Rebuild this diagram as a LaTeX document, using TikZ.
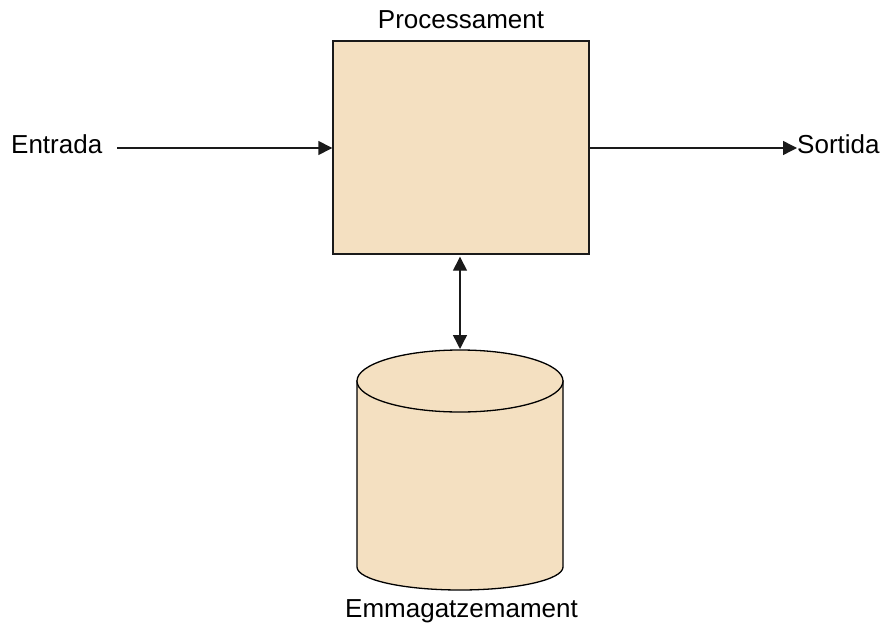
\documentclass[tikz,border=0pt]{standalone}
\usepackage{fontspec}
\setmainfont{Liberation Sans}
\usetikzlibrary{arrows.meta}
\definecolor{boxfill}{HTML}{F4E0C1}
\definecolor{edge}{HTML}{1A1A1A}
\tikzset{
  label text/.style={font=\fontsize{26}{31}\selectfont, inner sep=0pt, text=black},
  tip/.style={Triangle[length=14pt,width=14pt]},
  flow/.style={draw=edge, line width=1.4pt, -{Triangle[length=14pt,width=14pt]}},
  twoway/.style={draw=edge, line width=1.4pt, {Triangle[length=14pt,width=14pt]}-{Triangle[length=14pt,width=14pt]}},
  procbox/.style={draw=edge, fill=boxfill, line width=1.4pt, minimum width=256pt, minimum height=213pt, inner sep=0pt},
  store/.style={draw=black, fill=boxfill, line width=1.3pt}
}
\begin{document}
\begin{tikzpicture}[x=1pt,y=1pt]
  \useasboundingbox (0,0) rectangle (881,-626);

  % processing block
  \node[procbox] (proc) at (461,-147.5) {};
  \node[label text, anchor=base] (proclbl) at (461,-29) {Processament};

  % storage cylinder
  \path[store] (357,-381) -- (357,-567)
     arc[start angle=180, end angle=360, x radius=103, y radius=23]
     -- (563,-381) -- cycle;
  \path[store] (460,-381) ellipse[x radius=103, y radius=31];
  \coordinate (dbtop) at (460,-350);
  \node[label text, anchor=base] (dblbl) at (461.5,-617) {Emmagatzemament};

  % input and output
  \node[label text, anchor=base west] (in) at (11,-153) {Entrada};
  \node[label text, anchor=base west] (out) at (797,-153) {Sortida};
  \coordinate (instart) at (117,-148);

  \draw[flow] (instart) -- (proc.west |- instart);
  \draw[flow] (proc.east |- instart) -- (out.west |- instart);
  \draw[twoway] ([yshift=-2pt]proc.south -| dbtop) -- ([yshift=1pt]dbtop);
\end{tikzpicture}
\end{document}
